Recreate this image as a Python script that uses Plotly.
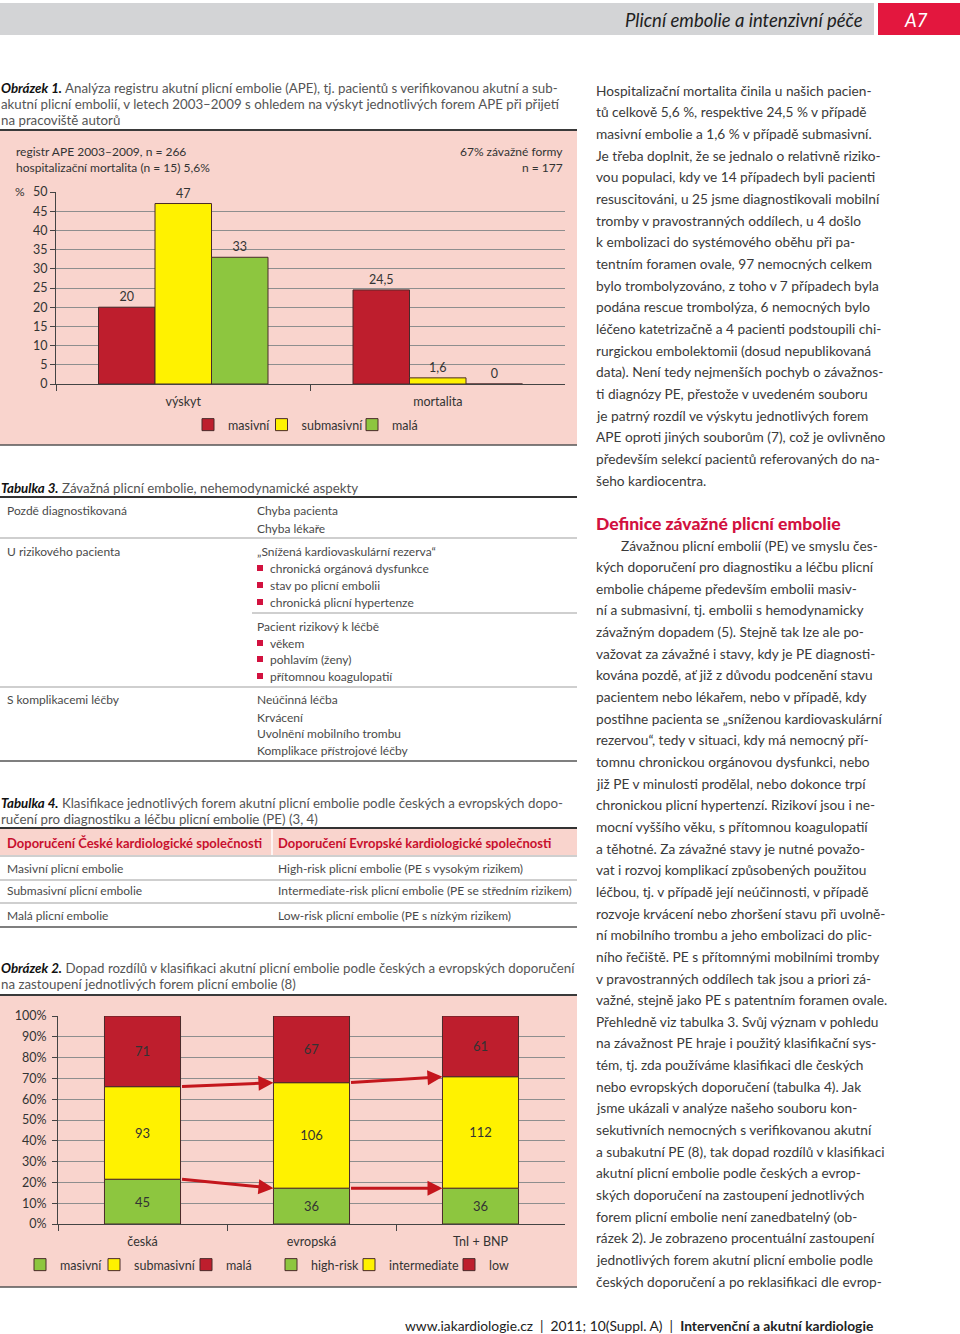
import plotly.graph_objects as go

# ---------------- data ----------------
categories1 = ['výskyt', 'mortalita']
masivni1 = [20, 24.5]
submasivni1 = [47, 1.6]
mala1 = [33, 0]

categories2 = ['česká', 'evropská', 'TnI + BNP']
cz_categories = ['česká']
eu_categories = ['evropská', 'TnI + BNP']
cz_masivni = [45]
cz_submasivni = [93]
cz_mala = [71]
eu_high = [36, 36]
eu_intermediate = [106, 112]
eu_low = [67, 61]

y1_ticks = list(range(0, 51, 5))
y2_ticks = list(range(0, 101, 10))
y2_ticktext = ['%d%%' % v for v in y2_ticks]

# ---------------- helpers ----------------
W, H = 960, 1334
FONT = 'Lato'
RED = '#be1e2d'
YEL = '#fff200'
GRN = '#8dc63f'
PINK = '#f9d4cd'
AX = '#444444'
GRID = '#8e8e8e'
TXT = '#4a4a4a'
OUTL = '#4a2a2a'


def px(x):
    return x / W


def py(y):
    return 1 - y / H


shapes = []
annotations = []


def rect(x0, y0, x1, y1, fill):
    shapes.append(dict(type='rect', xref='paper', yref='paper', x0=px(x0), x1=px(x1),
                       y0=py(y1), y1=py(y0), fillcolor=fill, line=dict(width=0), layer='below'))


def hline(x0, x1, y, color, w):
    shapes.append(dict(type='line', xref='paper', yref='paper', x0=px(x0), x1=px(x1),
                       y0=py(y), y1=py(y), line=dict(color=color, width=w), layer='below'))


def vline(x, y0, y1, color, w):
    shapes.append(dict(type='line', xref='paper', yref='paper', x0=px(x), x1=px(x),
                       y0=py(y0), y1=py(y1), line=dict(color=color, width=w), layer='below'))


def text(x, y, t, size=12, color=TXT, anchor='left', family=FONT, weight=None):
    f = dict(size=size, color=color, family=family)
    if weight:
        f['weight'] = weight
    annotations.append(dict(xref='paper', yref='paper', x=px(x), y=py(y), text=t,
                            showarrow=False, xanchor=anchor, yanchor='middle', borderpad=0, font=f))


def fmt(v):
    return ('%g' % v).replace('.', ',')


CAP = 13.3

# ---------------- page header ----------------
rect(0, 3, 874, 35, '#d3d4d6')
rect(878, 3, 960, 35, '#e3173e')
text(864, 20, '<i>Plicní embolie a intenzivní péče</i>', size=18.5, color='#1e1e1e', anchor='right')
text(916, 20, '<i>A7</i>', size=18.5, color='#ffffff', anchor='center')

# ---------------- Obrázek 1 caption + panel ----------------
text(0, 88, '<b><i>Obrázek 1.</i></b> <span style="color:#555">Analýza registru akutní plicní embolie (APE), tj. pacientů s verifikovanou akutní a sub-</span>', size=CAP, color='#111')
text(0, 104, 'akutní plicní embolií, v letech 2003–2009 s ohledem na výskyt jednotlivých forem APE při přijetí', size=CAP, color='#555')
text(0, 120, 'na pracoviště autorů', size=CAP, color='#555')
rect(0, 131, 577, 445, PINK)
hline(0, 577, 130, '#3a3a3a', 2)
hline(0, 577, 445, '#555555', 1.5)

text(15, 152, 'registr APE 2003–2009, n = 266', color='#333')
text(15, 168, 'hospitalizační mortalita (n = 15) 5,6%', color='#333')
text(564, 152, '67% závažné formy', color='#333', anchor='right')
text(564, 168, 'n = 177', color='#333', anchor='right')
text(20, 192, '%', color='#333', anchor='center')

# ---------------- Tabulka 3 ----------------
text(0, 488, '<b><i>Tabulka 3.</i></b> <span style="color:#555">Závažná plicní embolie, nehemodynamické aspekty</span>', size=CAP, color='#111')
hline(0, 577, 497, '#333333', 2)
hline(0, 577, 538, '#a0a0a0', 1.2)
hline(252, 577, 613, '#a0a0a0', 1.2)
hline(0, 577, 687, '#a0a0a0', 1.2)
hline(0, 577, 761, '#555555', 1.5)

t3_left = [('Pozdě diagnostikovaná', 511), ('U rizikového pacienta', 552), ('S komplikacemi léčby', 700)]
for s, y in t3_left:
    text(6, y, s)
t3_right = [('Chyba pacienta', 511), ('Chyba lékaře', 528), ('„Snížená kardiovaskulární rezerva“', 552),
            ('Pacient rizikový k léčbě', 626), ('Neúčinná léčba', 700), ('Krvácení', 717),
            ('Uvolnění mobilního trombu', 733), ('Komplikace přístrojové léčby', 750)]
for s, y in t3_right:
    text(256, y, s)
t3_bullets = [('chronická orgánová dysfunkce', 568), ('stav po plicní embolii', 585),
              ('chronická plicní hypertenze', 602), ('věkem', 643), ('pohlavím (ženy)', 659),
              ('přítomnou koagulopatií', 676)]
for s, y in t3_bullets:
    rect(257, y - 3, 263, y + 3, '#d2123f')
    text(269, y, s)

# ---------------- Tabulka 4 ----------------
text(0, 803, '<b><i>Tabulka 4.</i></b> <span style="color:#555">Klasifikace jednotlivých forem akutní plicní embolie podle českých a evropských dopo-</span>', size=CAP, color='#111')
text(0, 819, 'ručení pro diagnostiku a léčbu plicní embolie (PE) (3, 4)', size=CAP, color='#555')
rect(0, 829, 577, 855, PINK)
vline(272, 829, 855, '#ffffff', 1.5)
hline(0, 577, 828, '#333333', 2)
hline(0, 577, 856, '#a0a0a0', 1.2)
hline(0, 577, 880, '#a0a0a0', 1.2)
hline(0, 577, 903, '#a0a0a0', 1.2)
hline(0, 577, 927, '#555555', 1.5)
text(6, 843, '<b>Doporučení České kardiologické společnosti</b>', size=13, color='#c8102e')
text(277, 843, '<b>Doporučení Evropské kardiologické společnosti</b>', size=13, color='#c8102e')
t4_rows = [('Masivní plicní embolie', 'High-risk plicní embolie (PE s vysokým rizikem)', 868),
           ('Submasivní plicní embolie', 'Intermediate-risk plicní embolie (PE se středním rizikem)', 891),
           ('Malá plicní embolie', 'Low-risk plicní embolie (PE s nízkým rizikem)', 915)]
for a, b, y in t4_rows:
    text(6, y, a)
    text(277, y, b)

# ---------------- Obrázek 2 caption + panel ----------------
text(0, 968, '<b><i>Obrázek 2.</i></b> <span style="color:#555">Dopad rozdílů v klasifikaci akutní plicní embolie podle českých a evropských doporučení</span>', size=CAP, color='#111')
text(0, 984, 'na zastoupení jednotlivých forem plicní embolie (8)', size=CAP, color='#555')
rect(0, 996, 577, 1287, PINK)
hline(0, 577, 995, '#3a3a3a', 2)
hline(0, 577, 1287, '#555555', 1.5)

# ---------------- right column text ----------------
col1 = [
    'Hospitalizační mortalita činila u našich pacien-',
    'tů celkově 5,6 %, respektive 24,5 % v případě',
    'masivní embolie a 1,6 % v případě submasivní.',
    'Je třeba doplnit, že se jednalo o relativně riziko-',
    'vou populaci, kdy ve 14 případech byli pacienti',
    'resuscitováni, u 25 jsme diagnostikovali mobilní',
    'tromby v pravostranných oddílech, u 4 došlo',
    'k embolizaci do systémového oběhu při pa-',
    'tentním foramen ovale, 97 nemocných celkem',
    'bylo trombolyzováno, z toho v 7 případech byla',
    'podána rescue trombolýza, 6 nemocných bylo',
    'léčeno katetrizačně a 4 pacienti podstoupili chi-',
    'rurgickou embolektomii (dosud nepublikovaná',
    'data). Není tedy nejmenších pochyb o závažnos-',
    'ti diagnózy PE, přestože v uvedeném souboru',
    'je patrný rozdíl ve výskytu jednotlivých forem',
    'APE oproti jiných souborům (7), což je ovlivněno',
    'především selekcí pacientů referovaných do na-',
    'šeho kardiocentra.',
]
col2 = [
    'Závažnou plicní embolií (PE) ve smyslu čes-',
    'kých doporučení pro diagnostiku a léčbu plicní',
    'embolie chápeme především embolii masiv-',
    'ní a submasivní, tj. embolii s hemodynamicky',
    'závažným dopadem (5). Stejně tak lze ale po-',
    'važovat za závažné i stavy, kdy je PE diagnosti-',
    'kována pozdě, ať již z důvodu podcenění stavu',
    'pacientem nebo lékařem, nebo v případě, kdy',
    'postihne pacienta se „sníženou kardiovaskulární',
    'rezervou“, tedy v situaci, kdy má nemocný pří-',
    'tomnu chronickou orgánovou dysfunkci, nebo',
    'již PE v minulosti prodělal, nebo dokonce trpí',
    'chronickou plicní hypertenzí. Rizikoví jsou i ne-',
    'mocní vyššího věku, s přítomnou koagulopatií',
    'a těhotné. Za závažné stavy je nutné považo-',
    'vat i rozvoj komplikací způsobených použitou',
    'léčbou, tj. v případě její neúčinnosti, v případě',
    'rozvoje krvácení nebo zhoršení stavu při uvolně-',
    'ní mobilního trombu a jeho embolizaci do plic-',
    'ního řečiště. PE s přítomnými mobilními tromby',
    'v pravostranných oddílech tak jsou a priori zá-',
    'važné, stejně jako PE s patentním foramen ovale.',
    'Přehledně viz tabulka 3. Svůj význam v pohledu',
    'na závažnost PE hraje i použitý klasifikační sys-',
    'tém, tj. zda používáme klasifikaci dle českých',
    'nebo evropských doporučení (tabulka 4). Jak',
    'jsme ukázali v analýze našeho souboru kon-',
    'sekutivních nemocných s verifikovanou akutní',
    'a subakutní PE (8), tak dopad rozdílů v klasifikaci',
    'akutní plicní embolie podle českých a evrop-',
    'ských doporučení na zastoupení jednotlivých',
    'forem plicní embolie není zanedbatelný (ob-',
    'rázek 2). Je zobrazeno procentuální zastoupení',
    'jednotlivých forem akutní plicní embolie podle',
    'českých doporučení a po reklasifikaci dle evrop-',
]
BODY = 13.7
for i, s in enumerate(col1):
    text(595, 90 + i * 21.68, s, size=BODY, color='#3a3a3a')
text(595, 523, 'Definice závažné plicní embolie', size=17.5, color='#d2123f', weight=900)
for i, s in enumerate(col2):
    text(620 if i == 0 else 595, 545 + i * 21.65, s, size=BODY, color='#3a3a3a')

# ---------------- footer ----------------
text(874, 1325, 'www.iakardiologie.cz  |  2011; 10(Suppl. A)  |  <b>Intervenční a akutní kardiologie</b>',
     size=13.8, color='#222', anchor='right')

# ---------------- chart 1 traces ----------------
fig = go.Figure()
bw1 = (1 - 0.334) / 3
leg1_names = ['legend', 'legend2', 'legend3']
for i, (name, vals, col) in enumerate([('masivní', masivni1, RED), ('submasivní', submasivni1, YEL),
                                       ('malá', mala1, GRN)]):
    fig.add_trace(go.Bar(x=categories1, y=vals, name=name, width=bw1, offset=-1.5 * bw1 + i * bw1,
                         marker=dict(color=col, line=dict(color=OUTL, width=1)),
                         text=[fmt(v) for v in vals], textposition='outside', cliponaxis=False,
                         textfont=dict(size=12.5, color='#333', family=FONT),
                         xaxis='x', yaxis='y', legend=leg1_names[i], hoverinfo='skip'))

# ---------------- chart 2 traces ----------------
cz_total = [a + b + c for a, b, c in zip(cz_masivni, cz_submasivni, cz_mala)]
eu_total = [a + b + c for a, b, c in zip(eu_high, eu_intermediate, eu_low)]


def pct(vals, tot):
    return [100.0 * v / t for v, t in zip(vals, tot)]


cz_p = [pct(cz_masivni, cz_total), pct(cz_submasivni, cz_total), pct(cz_mala, cz_total)]
eu_p = [pct(eu_high, eu_total), pct(eu_intermediate, eu_total), pct(eu_low, eu_total)]
cz_counts = [cz_masivni, cz_submasivni, cz_mala]
eu_counts = [eu_high, eu_intermediate, eu_low]

bw2 = 0.45
cols = [GRN, YEL, RED]
cz_names = ['masivní', 'submasivní', 'malá']
eu_names = ['high-risk', 'intermediate', 'low']


def stack(group_p, group_counts, names, xs, legnames):
    base = [0.0] * len(xs)
    bases = []
    for p, cnt, name, col, lg in zip(group_p, group_counts, names, cols, legnames):
        fig.add_trace(go.Bar(x=xs, y=p, base=base, name=name, width=bw2, offset=-bw2 / 2,
                             marker=dict(color=col, line=dict(color=OUTL, width=1)),
                             text=[str(c) for c in cnt], textposition='inside', insidetextanchor='middle',
                             textfont=dict(size=13, color='#333', family=FONT), textangle=0,
                             xaxis='x2', yaxis='y2', legend=lg, hoverinfo='skip'))
        base = [b + v for b, v in zip(base, p)]
        bases.append(base)
    return bases


cz_b = stack(cz_p, cz_counts, cz_names, cz_categories, ['legend4', 'legend5', 'legend6'])
eu_b = stack(eu_p, eu_counts, eu_names, eu_categories, ['legend7', 'legend8', 'legend9'])

bound = {
    0: [cz_b[0][0], cz_b[1][0]],
    1: [eu_b[0][0], eu_b[1][0]],
    2: [eu_b[0][1], eu_b[1][1]],
}
for k in (0, 1):
    for src, dst in ((0, 1), (1, 2)):
        annotations.append(dict(xref='x2', yref='y2', axref='x2', ayref='y2',
                                x=dst - bw2 / 2, y=bound[dst][k], ax=src + bw2 / 2, ay=bound[src][k],
                                text='', showarrow=True, arrowhead=2, arrowsize=1, arrowwidth=3,
                                arrowcolor='#c4161c', standoff=0, startstandoff=0))

# ---------------- layout ----------------
tickfont = dict(size=12.5, color='#333', family=FONT)
legfont = dict(size=12.5, color='#333', family=FONT)


def leg(x_sq, y):
    # plotly puts the swatch centre ~20 px right of the legend's left edge
    return dict(x=px(x_sq - 20), y=py(y), xanchor='left', yanchor='middle', orientation='h',
                font=legfont, bgcolor='rgba(0,0,0,0)', itemwidth=30)


legends = {}
for name, xs in zip(['legend', 'legend2', 'legend3'], [208, 281.5, 372]):
    legends[name] = leg(xs, 425)
for name, xs in zip(['legend4', 'legend5', 'legend6', 'legend7', 'legend8', 'legend9'],
                    [40, 114, 206, 291, 369, 469]):
    legends[name] = leg(xs, 1265)

fig.update_layout(
    width=W, height=H, margin=dict(l=0, r=0, t=0, b=0, pad=0, autoexpand=False),
    paper_bgcolor='white', plot_bgcolor='rgba(0,0,0,0)',
    font=dict(family=FONT, size=12.5, color='#333'),
    barmode='overlay', showlegend=True,
    shapes=shapes, annotations=annotations,
    xaxis=dict(domain=[px(56), px(565)], anchor='y', type='category', categoryorder='array',
               categoryarray=categories1, range=[-0.5, 1.5], showline=True, linecolor=AX, linewidth=1,
               ticks='outside', tickson='boundaries', ticklen=6, tickcolor=AX, showgrid=False,
               tickfont=tickfont, fixedrange=True, automargin=False, ticklabelstandoff=6),
    yaxis=dict(domain=[py(384), py(192)], anchor='x', range=[0, 50], tickvals=y1_ticks,
               showgrid=True, gridcolor=GRID, gridwidth=1, showline=True, linecolor=AX,
               ticks='outside', ticklen=5, tickcolor=AX, zeroline=False, tickfont=tickfont,
               fixedrange=True, automargin=False),
    xaxis2=dict(domain=[px(58), px(565)], anchor='y2', type='category', categoryorder='array',
                categoryarray=categories2, range=[-0.5, 2.5], showline=True, linecolor=AX, linewidth=1,
                ticks='outside', tickson='boundaries', ticklen=6, tickcolor=AX, showgrid=False,
                tickfont=tickfont, fixedrange=True, automargin=False, ticklabelstandoff=6),
    yaxis2=dict(domain=[py(1224), py(1016)], anchor='x2', range=[0, 100], tickvals=y2_ticks,
                ticktext=y2_ticktext, showgrid=True, gridcolor=GRID, gridwidth=1, showline=True,
                linecolor=AX, ticks='outside', ticklen=5, tickcolor=AX, zeroline=False,
                tickfont=tickfont, fixedrange=True, automargin=False, ticklabelstandoff=3),
    **legends,
)

post = (
    "var st=document.createElement('style');"
    "st.textContent='html,body{margin:0!important;padding:0!important;overflow:hidden!important;}';"
    "document.head.appendChild(st);"
    "var g=document.getElementById('{plot_id}');"
    "g.style.position='absolute';g.style.left='0px';g.style.top='0px';g.style.margin='0';"
)
fig.write_html('out.html', config={'displayModeBar': False}, post_script=post)
